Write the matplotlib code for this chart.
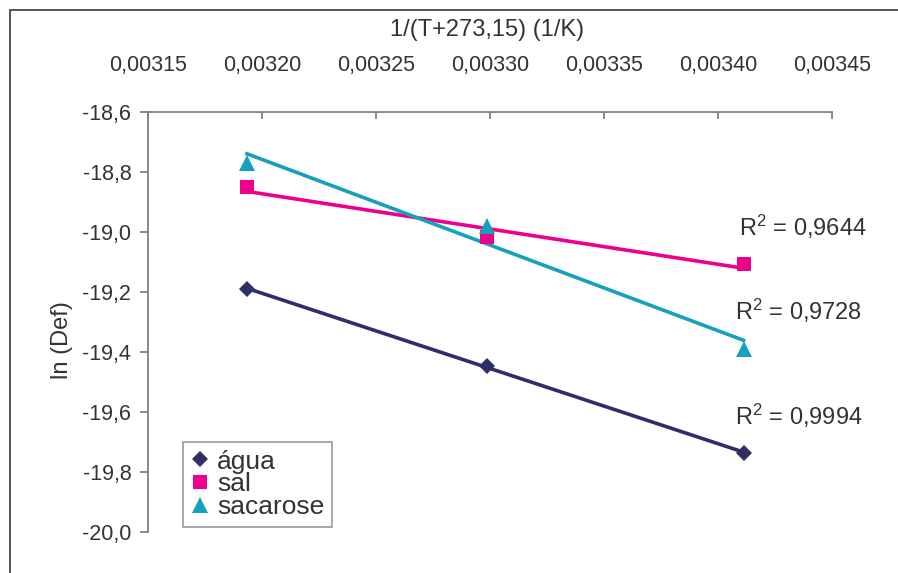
import numpy as np
import matplotlib
matplotlib.use("Agg")
import matplotlib.pyplot as plt
from matplotlib.patches import Rectangle
from matplotlib.ticker import FuncFormatter, FixedLocator

plt.rcParams['font.family'] = ['Liberation Sans', 'DejaVu Sans']
plt.rcParams['mathtext.fontset'] = 'custom'
plt.rcParams['mathtext.rm'] = 'Liberation Sans'
plt.rcParams['mathtext.it'] = 'Liberation Sans'
plt.rcParams['mathtext.default'] = 'regular'

# Temperatures (°C) and ln(Def) for each medium
temperatures = [40, 30, 20]
agua = [-19.191, -19.445, -19.737]
sal = [-18.850, -19.017, -19.107]
sacarose = [-18.770, -18.980, -19.390]

series_names = ["água", "sal", "sacarose"]
r2_values = ["0,9994", "0,9644", "0,9728"]

x_ticks = [0.00315, 0.00320, 0.00325, 0.00330, 0.00335, 0.00340, 0.00345]
y_ticks = [-20.0, -19.8, -19.6, -19.4, -19.2, -19.0, -18.8, -18.6]

colors = ["#2f2f66", "#ec008c", "#17a0bb"]
markers = ["D", "s", "^"]
marker_sizes = [8, 10, 11]
text_color = "#333333"
axis_color = "#808080"

inv_T = 1.0 / (np.array(temperatures, dtype=float) + 273.15)

fig = plt.figure(figsize=(8.98, 5.73), dpi=100)
ax = fig.add_axes([148 / 898, 1 - 532 / 573, 684 / 898, 420 / 573])

# Outer chart frame
fig.patches.append(Rectangle((10 / 898, -0.1), 1.2, (1 - 10 / 573) + 0.1,
                             transform=fig.transFigure, fill=False,
                             edgecolor="#555555", linewidth=1.4))

handles = []
for yvals, name, c, m, ms in zip([agua, sal, sacarose], series_names,
                                 colors, markers, marker_sizes):
    yvals = np.array(yvals)
    slope, intercept = np.polyfit(inv_T, yvals, 1)
    xs = np.array([inv_T.min(), inv_T.max()])
    ax.plot(xs, slope * xs + intercept, color=c, lw=2.6, zorder=2)
    h, = ax.plot(inv_T, yvals, linestyle="none", marker=m, color=c,
                 markersize=ms, markeredgewidth=0, label=name, zorder=3)
    handles.append(h)

# R² annotations next to each trend line
r2_pos = [(0.0034075, -19.613), (0.0034093, -18.983), (0.0034075, -19.263)]
for (tx, ty), val in zip(r2_pos, r2_values):
    ax.text(tx, ty, r"R$^{2}$ = " + val, fontsize=17, color=text_color,
            ha="left", va="center")

ax.set_xlim(0.00315, 0.00345)
ax.set_ylim(-20.0, -18.6)
ax.xaxis.set_major_locator(FixedLocator(x_ticks))
ax.yaxis.set_major_locator(FixedLocator(y_ticks))
ax.xaxis.set_major_formatter(FuncFormatter(lambda v, p: f"{v:.5f}".replace(".", ",")))
ax.yaxis.set_major_formatter(FuncFormatter(lambda v, p: f"{v:.1f}".replace(".", ",")))

ax.xaxis.tick_top()
for s in ["right", "bottom"]:
    ax.spines[s].set_visible(False)
for s in ["left", "top"]:
    ax.spines[s].set_color(axis_color)
    ax.spines[s].set_linewidth(1.3)

ax.tick_params(axis="x", direction="in", length=5, width=1.3, color=axis_color,
               labelsize=15.5, labelcolor=text_color, pad=26)
ax.tick_params(axis="y", direction="out", length=6, width=1.3, color=axis_color,
               labelsize=15.5, labelcolor=text_color, pad=6)

fig.text(487 / 898, 1 - 30 / 573, "1/(T+273,15) (1/K)", fontsize=17,
         color=text_color, ha="center", va="center")
fig.text(62 / 898, 1 - 340 / 573, "ln (Def)", fontsize=17, rotation=90,
         color=text_color, ha="center", va="center")

leg = ax.legend(handles=handles, loc="lower left",
                bbox_to_anchor=((183 - 148) / 684, (532 - 527) / 420),
                borderaxespad=0, fontsize=19, frameon=True, fancybox=False,
                handlelength=0.7, handletextpad=0.3, labelspacing=-0.05,
                borderpad=0.3, markerscale=1.0)
leg.get_frame().set_edgecolor(axis_color)
leg.get_frame().set_linewidth(1.2)
for t in leg.get_texts():
    t.set_color(text_color)

fig.savefig("out.png", dpi=100, facecolor="white")
